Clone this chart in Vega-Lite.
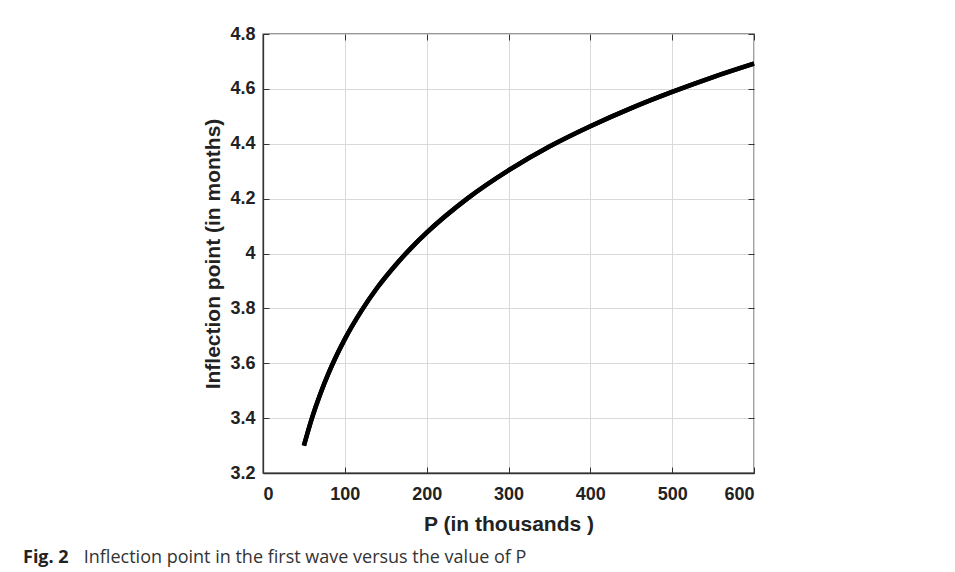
{
  "$schema": "https://vega.github.io/schema/vega-lite/v6.json",
  "width": 491,
  "height": 439,
  "autosize": {"type": "none"},
  "padding": {"left": 263, "top": 34, "right": 201, "bottom": 99},
  "background": "white",
  "title": {
    "text": "Fig. 2",
    "subtitle": "\u200b\u00a0\u00a0\u00a0\u00a0\u00a0\u00a0\u00a0\u00a0\u00a0\u00a0\u00a0\u00a0\u00a0Inflection point in the first wave versus the value of P",
    "orient": "bottom",
    "anchor": "start",
    "frame": "group",
    "dx": -240,
    "offset": 15,
    "font": "Open Sans",
    "fontSize": 18,
    "fontWeight": "bold",
    "color": "#222",
    "subtitleFont": "Open Sans",
    "subtitleFontSize": 18,
    "subtitleFontWeight": "normal",
    "subtitleColor": "#333",
    "subtitlePadding": -18
  },
  "data": {
    "values": [
      {"P": 50, "T": 3.300},
      {"P": 60, "T": 3.402},
      {"P": 70, "T": 3.488},
      {"P": 80, "T": 3.563},
      {"P": 90, "T": 3.629},
      {"P": 100, "T": 3.688},
      {"P": 120, "T": 3.790},
      {"P": 140, "T": 3.877},
      {"P": 160, "T": 3.951},
      {"P": 180, "T": 4.017},
      {"P": 200, "T": 4.076},
      {"P": 250, "T": 4.201},
      {"P": 300, "T": 4.303},
      {"P": 350, "T": 4.390},
      {"P": 400, "T": 4.464},
      {"P": 450, "T": 4.530},
      {"P": 500, "T": 4.589},
      {"P": 550, "T": 4.643},
      {"P": 600, "T": 4.692}
    ]
  },
  "layer": [
    {
      "mark": {"type": "line", "color": "black", "strokeWidth": 4.5, "interpolate": "monotone"},
      "encoding": {
        "x": {
          "field": "P",
          "type": "quantitative",
          "scale": {"domain": [0, 600], "nice": false, "zero": false},
          "axis": {
            "title": "P (in thousands )",
            "values": [0, 100, 200, 300, 400, 500, 600],
            "format": "d",
            "tickSize": -6,
            "labelPadding": 18,
            "titlePadding": 10
          }
        },
        "y": {
          "field": "T",
          "type": "quantitative",
          "scale": {"domain": [3.2, 4.8], "nice": false, "zero": false},
          "axis": {
            "title": "Inflection point (in months)",
            "values": [3.2, 3.4, 3.6, 3.8, 4.0, 4.2, 4.4, 4.6, 4.8],
            "format": "~g",
            "tickSize": -6,
            "labelPadding": 14,
            "titlePadding": 6
          }
        }
      }
    },
    {
      "mark": {"type": "line", "color": "black", "strokeWidth": 4.5, "interpolate": "monotone"},
      "encoding": {
        "x": {
          "field": "P",
          "type": "quantitative",
          "axis": {
            "orient": "top",
            "title": null,
            "values": [0, 100, 200, 300, 400, 500, 600],
            "labels": false,
            "grid": false,
            "domain": false,
            "tickSize": -6
          }
        },
        "y": {
          "field": "T",
          "type": "quantitative",
          "axis": {
            "orient": "right",
            "title": null,
            "values": [3.2, 3.4, 3.6, 3.8, 4.0, 4.2, 4.4, 4.6, 4.8],
            "labels": false,
            "grid": false,
            "domain": false,
            "tickSize": -6
          }
        }
      }
    }
  ],
  "resolve": {"axis": {"x": "independent", "y": "independent"}},
  "config": {
    "view": {"stroke": "#333", "strokeWidth": 1.3},
    "axis": {
      "domainColor": "#333",
      "domainWidth": 1.3,
      "tickColor": "#333",
      "gridColor": "#d9d9d9",
      "gridWidth": 1,
      "labelFont": "Liberation Sans",
      "labelFontSize": 18,
      "labelFontWeight": "bold",
      "labelColor": "#222",
      "titleFont": "Liberation Sans",
      "titleFontSize": 21,
      "titleFontWeight": "bold",
      "titleColor": "#222"
    }
  }
}
